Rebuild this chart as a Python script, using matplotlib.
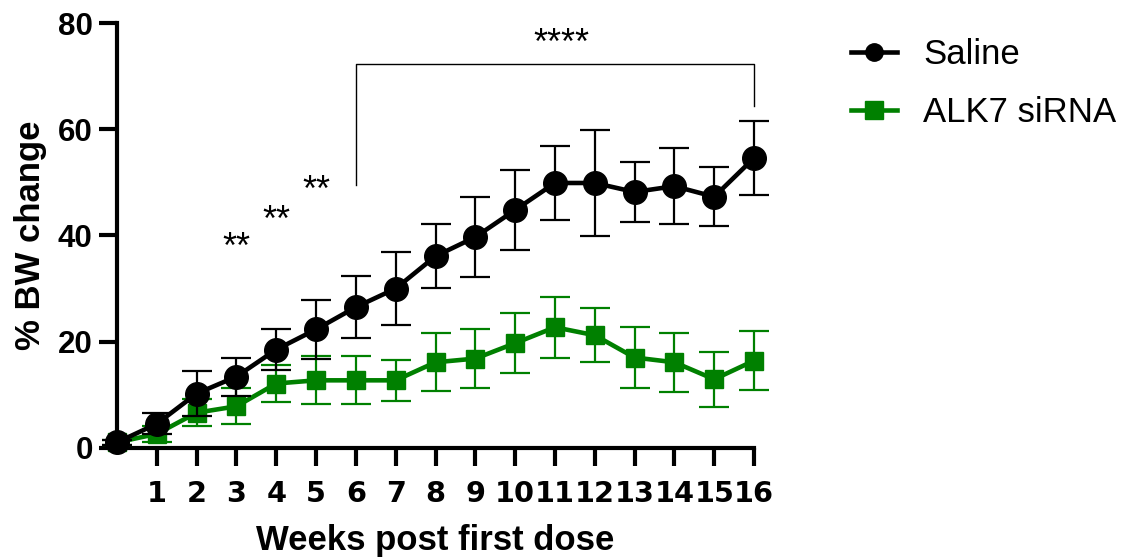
import matplotlib
matplotlib.use("Agg")
import matplotlib.pyplot as plt
from matplotlib.lines import Line2D

plt.rcParams['font.family'] = ['Liberation Sans', 'DejaVu Sans']

weeks = list(range(0, 17))
saline_mean = [1.0, 4.5, 10.2, 13.4, 18.5, 22.3, 26.5, 30.0, 36.1, 39.7, 44.8, 49.9, 49.9, 48.2, 49.3, 47.3, 54.6]
saline_err = [0.5, 2.0, 4.3, 3.6, 3.8, 5.5, 5.8, 6.8, 6.0, 7.6, 7.6, 7.0, 10.0, 5.7, 7.1, 5.6, 6.9]
alk7_mean = [1.0, 2.6, 6.6, 7.8, 12.1, 12.7, 12.7, 12.7, 16.1, 16.8, 19.7, 22.7, 21.2, 17.0, 16.1, 12.9, 16.4]
alk7_err = [0.5, 1.5, 2.5, 3.4, 3.5, 4.5, 4.5, 3.9, 5.5, 5.6, 5.6, 5.7, 5.1, 5.7, 5.6, 5.2, 5.6]
xticks = list(range(1, 17))
yticks = [0, 20, 40, 60, 80]
series_labels = ["Saline", "ALK7 siRNA"]
star_weeks = [3, 4, 5]
star_texts = ["**", "**", "**"]
star_y = [35.8, 40.8, 46.5]

GREEN = "#008000"

fig = plt.figure(figsize=(11.22, 5.58), dpi=100)
ax = fig.add_axes([117/1122, 1 - 447.7/558, (754-117)/1122, (447.7-23.3)/558])

ax.errorbar(weeks, alk7_mean, yerr=alk7_err, color=GREEN, lw=3.3, marker='s', ms=13.5,
            elinewidth=1.6, capsize=11, capthick=1.6, clip_on=False, zorder=3)
ax.errorbar(weeks, saline_mean, yerr=saline_err, color='black', lw=3.3, marker='o', ms=17,
            elinewidth=1.6, capsize=11, capthick=1.6, clip_on=False, zorder=4)

ax.set_xlim(0, 16)
ax.set_ylim(0, 80)
ax.set_xticks(xticks)
ax.set_yticks(yticks)
ax.tick_params(axis='both', width=3, length=13)
ax.tick_params(axis='x', pad=10)
ax.tick_params(axis='y', pad=4.5)
for lab in ax.get_xticklabels():
    lab.set_fontweight('bold')
    lab.set_fontfamily('DejaVu Sans')
    lab.set_fontsize(20.7)
for lab in ax.get_yticklabels():
    lab.set_fontweight('bold')
    lab.set_fontsize(22.5)
for s in ['top', 'right']:
    ax.spines[s].set_visible(False)
for s in ['left', 'bottom']:
    ax.spines[s].set_linewidth(3)

ax.set_xlabel("Weeks post first dose", fontsize=25, fontweight='bold', labelpad=12)
ax.set_ylabel("% BW change", fontsize=25, fontweight='bold', labelpad=8)

# significance stars
for w, t, y in zip(star_weeks, star_texts, star_y):
    ax.text(w, y, t, ha='center', va='baseline', fontsize=26)

# bracket
ax.plot([6, 6, 16, 16], [49.5, 72.3, 72.3, 64.5], color='black', lw=1, clip_on=False)
ax.text(11.15, 74.2, "****", ha='center', va='baseline', fontsize=26, clip_on=False)

handles = [
    Line2D([], [], color='black', lw=3.3, marker='o', ms=12.5),
    Line2D([], [], color=GREEN, lw=3.3, marker='s', ms=12.5),
]
leg = fig.legend(handles, series_labels, loc='upper left', bbox_to_anchor=(851/1122, 1 - 38/558),
                 frameon=False, fontsize=25, handlelength=1.33, handletextpad=0.75,
                 labelspacing=0.72, borderaxespad=0, borderpad=0)

fig.savefig("out.png", dpi=100)
